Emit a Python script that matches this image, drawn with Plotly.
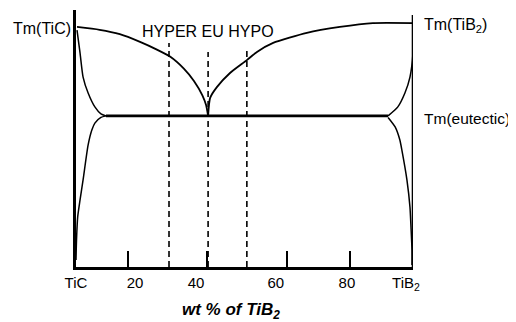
import plotly.graph_objects as go

# Schematic TiC–TiB2 phase diagram (x: composition position along axis 0..100, y: relative temperature 0..100)
liq_left_x = [0.3, 7.0, 13.0, 19.0, 24.0, 28.0, 32.0, 35.0, 37.5, 38.6, 39.2]
liq_left_y = [93.4, 92.3, 90.6, 87.6, 84.6, 81.8, 77.2, 72.4, 66.8, 63.0, 58.8]
liq_right_x = [39.2, 39.8, 41.8, 45.7, 50.7, 53.7, 58.5, 68.5, 78.3, 88.1, 100.0]
liq_right_y = [58.8, 65.8, 70.0, 75.5, 80.5, 83.7, 87.2, 91.1, 93.4, 94.9, 94.9]

sol_left_x = [0.3, 1.2, 2.1, 3.6, 5.6, 7.4, 8.9]
sol_left_y = [92.2, 83.3, 73.9, 67.7, 62.3, 59.6, 58.8]
solv_left_x = [8.9, 7.4, 5.6, 4.7, 3.6, 2.1, 1.2, 0.5, 0.15, 0.0]
solv_left_y = [58.8, 58.2, 56.0, 53.3, 47.5, 33.9, 26.1, 19.5, 10.5, 2.7]

sol_right_x = [92.6, 95.5, 97.6, 99.1, 100.0, 100.0]
sol_right_y = [58.8, 62.3, 67.7, 73.9, 83.3, 92.2]
solv_right_x = [92.6, 94.7, 96.1, 96.7, 98.2, 99.1, 99.4, 99.7, 99.7]
solv_right_y = [58.2, 54.5, 49.4, 45.5, 33.9, 23.3, 15.6, 6.6, 0.8]

eutectic_x = [8.9, 92.6]
eutectic_y = [58.8, 58.8]

right_edge_x = [100.0, 100.0]
right_edge_y = [0.0, 98.1]

dashed_x = [27.6, 39.2, 50.7]
dashed_top = [87.2, 83.7, 85.6]

tick_mark_pos = [15.4, 38.9, 62.6, 81.3]
tick_label_pos = [0.0, 17.5, 35.6, 59.3, 80.4, 97.9]
tick_labels = ["TiC", "20", "40", "60", "80", "TiB<sub>2</sub>"]

FONT = "Arial, Liberation Sans, Helvetica, sans-serif"

fig = go.Figure()

def add_line(x, y, width=1.6, dash=None):
    fig.add_trace(go.Scatter(
        x=x, y=y, mode="lines",
        line=dict(color="black", width=width, dash=dash, shape="spline", smoothing=0.6),
        hoverinfo="skip", showlegend=False))

add_line(liq_left_x, liq_left_y, 1.8)
add_line(liq_right_x, liq_right_y, 1.8)
add_line(sol_left_x, sol_left_y, 1.5)
add_line(solv_left_x, solv_left_y, 1.5)
add_line(sol_right_x, sol_right_y, 1.5)
add_line(solv_right_x, solv_right_y, 1.5)
add_line(eutectic_x, eutectic_y, 2.6)
fig.add_trace(go.Scatter(x=right_edge_x, y=right_edge_y, mode="lines",
                         line=dict(color="black", width=2.6),
                         hoverinfo="skip", showlegend=False))

for xv, top in zip(dashed_x, dashed_top):
    fig.add_trace(go.Scatter(x=[xv, xv], y=[0, top], mode="lines",
                             line=dict(color="black", width=1.6, dash="6px,4px"),
                             hoverinfo="skip", showlegend=False))

fig.update_layout(
    width=508, height=314,
    margin=dict(l=68, r=103, t=2, b=55),
    paper_bgcolor="white", plot_bgcolor="white",
    font=dict(family=FONT, size=15, color="black"),
    xaxis=dict(
        range=[0, 100], showgrid=False, zeroline=False,
        showline=True, linecolor="black", linewidth=3,
        tickmode="array", tickvals=tick_label_pos, ticktext=tick_labels,
        ticks="", tickfont=dict(size=15, family=FONT),
        minor=dict(tickmode="array", tickvals=tick_mark_pos, ticks="inside",
                   ticklen=16, tickwidth=1.6, tickcolor="black", showgrid=False),
    ),
    yaxis=dict(
        range=[0, 100], showgrid=False, zeroline=False,
        showline=True, linecolor="black", linewidth=3,
        showticklabels=False, ticks="",
    ),
    annotations=[
        dict(text="Tm(TiC)", x=0, y=92.8, xref="x", yref="y", xanchor="right",
             yanchor="middle", xshift=-3, showarrow=False, font=dict(size=16)),
        dict(text="Tm(TiB<sub>2</sub>)", x=100, y=93.8, xref="x", yref="y", xanchor="left",
             yanchor="middle", xshift=9, showarrow=False, font=dict(size=16)),
        dict(text="Tm(eutectic)", x=100, y=57.8, xref="x", yref="y", xanchor="left",
             yanchor="middle", xshift=9, showarrow=False, font=dict(size=15.5)),
        dict(text="HYPER EU HYPO", x=39.2, y=91.8, xref="x", yref="y", xanchor="center",
             yanchor="middle", showarrow=False, font=dict(size=16)),
        dict(text="<b><i>wt % of TiB<sub>2</sub></i></b>", x=46, y=0, xref="x", yref="paper",
             xanchor="center", yanchor="middle", yshift=-44, showarrow=False,
             font=dict(size=17)),
    ],
)

fig.write_html("out.html")
